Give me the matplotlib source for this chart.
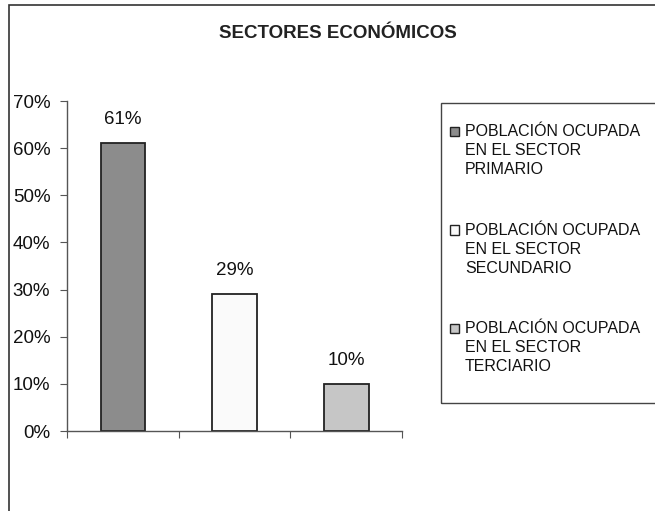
import matplotlib
matplotlib.use("Agg")
import matplotlib.pyplot as plt
from matplotlib.patches import Rectangle
from matplotlib.ticker import FuncFormatter

title = "SECTORES ECONÓMICOS"
categories = ["POBLACIÓN OCUPADA\nEN EL SECTOR\nPRIMARIO",
              "POBLACIÓN OCUPADA\nEN EL SECTOR\nSECUNDARIO",
              "POBLACIÓN OCUPADA\nEN EL SECTOR\nTERCIARIO"]
values = [0.61, 0.29, 0.10]
colors = ["#8c8c8c", "#fafafa", "#c6c6c6"]
yticks = [0, 0.1, 0.2, 0.3, 0.4, 0.5, 0.6, 0.7]

plt.rcParams['font.family'] = ['Liberation Sans', 'DejaVu Sans']

W, H = 655, 511
fig = plt.figure(figsize=(W / 100, H / 100), dpi=100)

def fx(px):
    return px / W

def fy(py):
    return 1 - py / H

# outer chart frame (extends beyond the image on right and bottom)
fig.patches.append(Rectangle((fx(8.5), fy(600)), 1.0, fy(4.5) - fy(600),
                             transform=fig.transFigure, fill=False,
                             edgecolor="#333333", linewidth=1.2))

ax = fig.add_axes([fx(67), fy(431), fx(402) - fx(67), fy(101) - fy(431)])
x = list(range(len(values)))
bars = ax.bar(x, values, width=0.4, color=colors, edgecolor="#222222", linewidth=1.3)
ax.set_xlim(-0.5, 2.5)
ax.set_ylim(0, 0.7)
ax.set_yticks(yticks)
ax.yaxis.set_major_formatter(FuncFormatter(lambda v, p: f"{v*100:.0f}%"))
ax.set_xticks([i - 0.5 for i in range(len(values) + 1)])
ax.set_xticklabels([])
for s in ["top", "right"]:
    ax.spines[s].set_visible(False)
for s in ["left", "bottom"]:
    ax.spines[s].set_color("#555555")
    ax.spines[s].set_linewidth(1.0)
ax.tick_params(axis="y", direction="out", length=5, color="#555555", labelsize=13.5, pad=7, labelcolor="#111111")
ax.tick_params(axis="x", direction="out", length=5, color="#555555")

for xi, v in zip(x, values):
    ax.annotate(f"{v*100:.0f}%", (xi, v), xytext=(0, 11), textcoords="offset points",
                ha="center", va="bottom", fontsize=13.5, color="#111111")

fig.text(fx(338), fy(33), title, ha="center", va="center",
         fontsize=13.5, fontweight="bold", color="#222222")

# legend box
fig.patches.append(Rectangle((fx(440.5), fy(403)), 1.0, fy(103) - fy(403),
                             transform=fig.transFigure, fill=False,
                             edgecolor="#444444", linewidth=1.0))
for i, (lab, c) in enumerate(zip(categories, colors)):
    yc = 131.5 + i * 98.5
    fig.patches.append(Rectangle((fx(450), fy(yc + 4.5)), fx(9), fy(yc - 4.5) - fy(yc + 4.5),
                                 transform=fig.transFigure, facecolor=c,
                                 edgecolor="#222222", linewidth=1.0))
    fig.text(fx(465), fy(yc - 7.5), lab, ha="left", va="top", fontsize=11.5,
             color="#111111", linespacing=1.35)

fig.savefig("out.png", dpi=100)
